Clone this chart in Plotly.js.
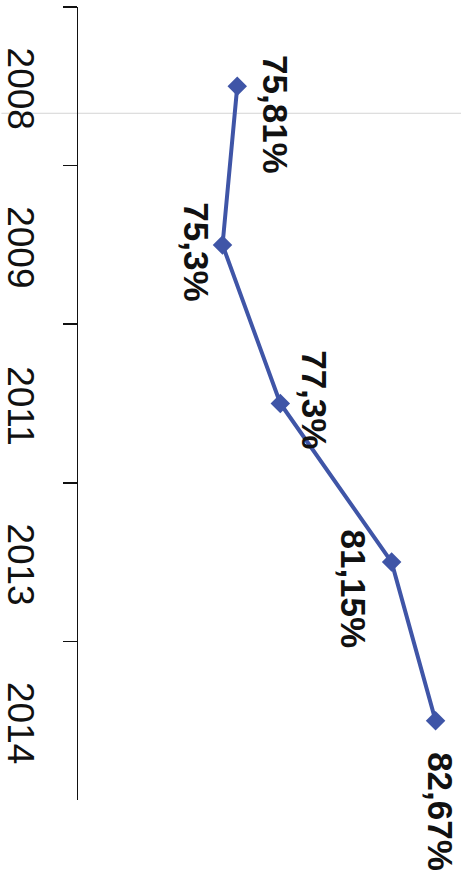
<!DOCTYPE html>
<html>
<head>
<meta charset="utf-8">
<script src="https://cdn.plot.ly/plotly-3.0.1.min.js"></script>
<style>
html,body{margin:0;padding:0;background:#fff;}
#chart{width:461px;height:878px;}
</style>
</head>
<body>
<div id="chart"></div>
<script>
// Data
var years = ['2008', '2009', '2011', '2013', '2014'];
var rates = [75.81, 75.3, 77.3, 81.15, 82.67];

// Label placement (pixel offsets from each point)
var labelShiftX = [38, -26, 34, -38, 5];
var labelShiftY = [-28, -7, 4, -27, -91];

var lineColor = '#3f55a7';

var labels = rates.map(function (v) { return String(v).replace('.', ',') + '%'; });

var trace = {
  type: 'scatter',
  mode: 'lines+markers',
  x: rates,
  y: years,
  line: { color: lineColor, width: 4 },
  marker: { symbol: 'diamond', size: 15, color: lineColor },
  hoverinfo: 'skip'
};

var annotations = [];
for (var i = 0; i < rates.length; i++) {
  annotations.push({
    x: rates[i], y: i, xref: 'x', yref: 'y',
    text: '<b>' + labels[i] + '</b>', showarrow: false, textangle: 90,
    xshift: labelShiftX[i], yshift: labelShiftY[i],
    font: { family: 'Liberation Sans', size: 35, color: '#111' }
  });
}

var layout = {
  width: 461, height: 878,
  margin: { l: 78, r: 0, t: 7, b: 78 },
  paper_bgcolor: '#fff', plot_bgcolor: '#fff',
  showlegend: false,
  xaxis: {
    range: [70.3, 83.55],
    visible: false
  },
  yaxis: {
    type: 'category',
    categoryorder: 'array', categoryarray: years,
    range: [4.5, -0.5],
    showline: true, linecolor: '#111', linewidth: 1.5,
    ticks: 'outside', tickson: 'boundaries', ticklen: 14, tickcolor: '#111', tickwidth: 1.5,
    tickangle: 90, ticklabelstandoff: 24, ticklabelshift: -8,
    tickfont: { family: 'Liberation Sans', size: 37, color: '#111' },
    showgrid: false, zeroline: false,
    fixedrange: true
  },
  shapes: [{
    type: 'line', xref: 'paper', yref: 'paper',
    x0: -0.2, x1: 1, y0: 0.866, y1: 0.866,
    line: { color: '#d4d4d4', width: 1 },
    layer: 'below'
  }],
  annotations: annotations
};

Plotly.newPlot('chart', [trace], layout, { displayModeBar: false, staticPlot: true });
</script>
</body>
</html>
